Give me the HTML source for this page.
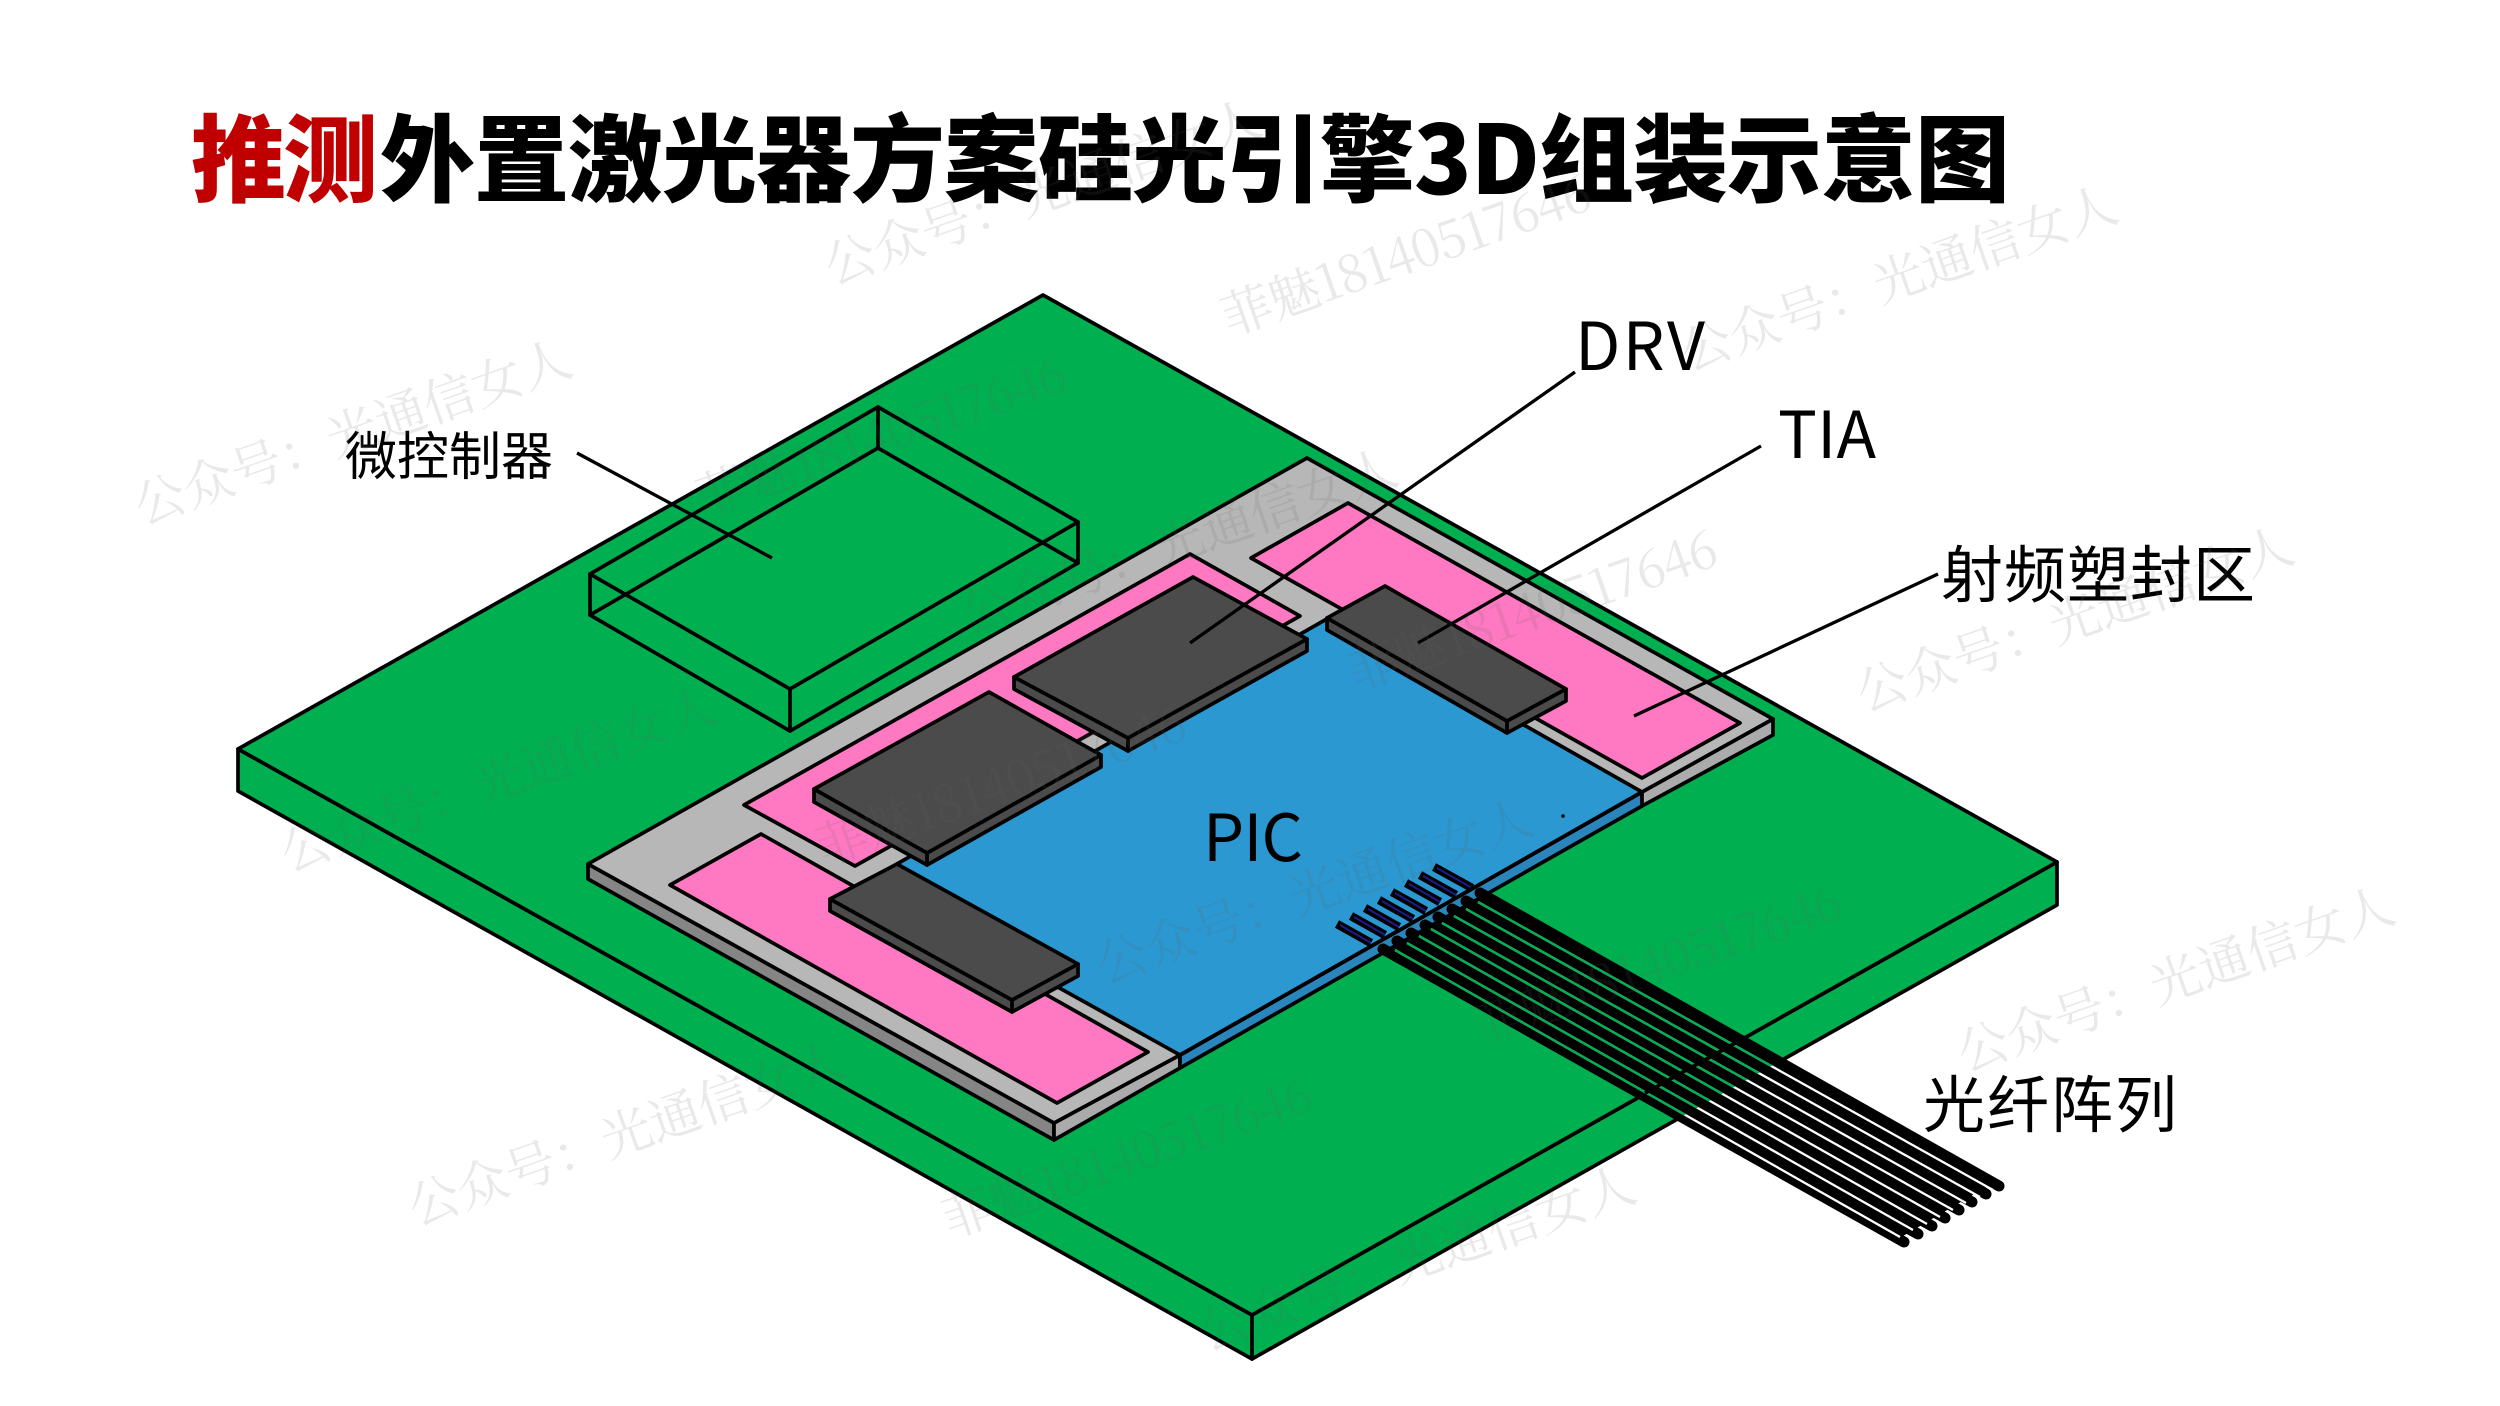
<!DOCTYPE html>
<html><head><meta charset="utf-8"><style>
html,body{margin:0;padding:0;background:#fff;width:2500px;height:1406px;overflow:hidden}
svg{display:block}
.l{font-family:"Noto Sans CJK SC","Liberation Sans",sans-serif;font-size:62px;fill:#000}
.w{font-family:"Noto Serif CJK SC","Liberation Serif",serif;font-size:51px;fill:rgba(100,100,100,.14)}
.k{stroke:#000;stroke-width:3.7;stroke-linejoin:round;stroke-linecap:round}
</style></head><body>
<svg width="2500" height="1406" viewBox="0 0 2500 1406" xmlns="http://www.w3.org/2000/svg">
<defs><clipPath id="bd"><polygon points="1043,295 2057,862 2057,905 1252,1359 238,791 238,749"/></clipPath></defs>
<rect width="2500" height="1406" fill="#fff"/>
<!-- title -->
<text x="191" y="194" font-family="'Noto Sans CJK SC',sans-serif" font-weight="900" font-size="95" fill="#C00000" textLength="187">推测</text>
<text x="380" y="194" font-family="'Noto Sans CJK SC',sans-serif" font-weight="900" font-size="95" fill="#000" textLength="1630">外置激光器方案硅光引擎3D组装示意图</text>
<!-- board -->
<polygon class="k" fill="#00B050" points="238,749 1252,1315 1252,1359 238,791"/>
<polygon class="k" fill="#00B050" points="1252,1315 2057,862 2057,905 1252,1359"/>
<polygon class="k" fill="#00B050" points="1043,295 2057,862 1252,1315 238,749"/>
<!-- package sides -->
<polygon class="k" fill="#858585" points="588,864 1054,1123 1054,1140 588,879"/>
<polygon class="k" fill="#ABABAB" points="1054,1123 1180,1055 1180,1068 1054,1140"/>
<polygon class="k" fill="#2A85BC" points="1180,1055 1642,792 1642,806 1180,1068"/>
<polygon class="k" fill="#ABABAB" points="1642,792 1773,719 1773,735 1642,806"/>
<polygon class="k" fill="#B7B7B7" points="588,864 1307,458 1773,719 1642,792 1180,1055 1054,1123"/>
<!-- pink -->
<polygon class="k" fill="#FF79C2" points="744,805 1190,554 1300,616 855,866"/>
<polygon class="k" fill="#FF79C2" points="670,885 761,834 1148,1052 1057,1103"/>
<polygon class="k" fill="#FF79C2" points="1251,558 1348,503 1740,723 1642,778"/>
<!-- PIC -->
<polygon class="k" fill="#2B98D1" points="1332,616 1642,792 1180,1055 867,881"/>
<!-- stubs -->
<g fill="none" stroke="#000" stroke-width="8.5">
<path d="M1337,924L1371,943M1351,916L1385,935M1365,908L1399,927M1379,900L1413,919M1392,892L1426,911M1406,883L1440,902M1420,875L1456,895M1434,867L1472,888"/>
</g>
<g fill="none" stroke="#1F1A8A" stroke-width="2">
<path d="M1340,925L1371,943M1354,917L1385,935M1368,909L1399,927M1382,901L1413,919M1395,893L1426,911M1409,884L1440,902M1423,876L1456,895M1437,868L1472,888"/>
</g>
<line class="k" x1="1180" y1="1055" x2="1642" y2="792"/>
<!-- chips -->
<g class="k" fill="#4B4B4B">
<polygon points="1014,677 1128,738 1307,639 1307,651 1128,751 1014,689"/><polyline fill="none" points="1014,677 1128,738 1128,751"/>
<polygon points="1193,577 1307,639 1128,738 1014,677"/>
<polygon points="814,789 927,853 1101,755 1101,767 927,865 814,802"/>
<polygon points="989,692 1101,755 927,853 814,789"/>
<polygon points="830,899 1012,1000 1078,964 1078,976 1012,1012 830,911"/>
<polygon points="897,864 1078,964 1012,1000 830,899"/>
<polygon points="1327,618 1507,721 1566,689 1566,701 1507,733 1327,630"/>
<polygon points="1385,586 1566,689 1507,721 1327,618"/>
<line x1="1128" y1="738" x2="1128" y2="751"/><line x1="927" y1="853" x2="927" y2="865"/><line x1="1012" y1="1000" x2="1012" y2="1012"/><line x1="1507" y1="721" x2="1507" y2="733"/>
</g>
<!-- MCU box -->
<g class="k" fill="none">
<polygon points="590,574 878,407 1078,522 790,689"/>
<polygon points="590,615 878,448 1078,563 790,731"/>
<path d="M590,574V615M878,407V448M1078,522V563M790,689V731"/>
</g>
<!-- fibers -->
<polygon fill="#000" points="1389,952 1486,896 1993,1183 1898,1239"/>
<g fill="none" stroke="#000" stroke-width="11" stroke-linecap="round">
<path d="M1383,949L1904,1242M1397,941L1918,1234M1411,933L1932,1226M1425,925L1945,1218M1438,917L1959,1210M1452,909L1972,1202M1466,901L1986,1194M1480,893L1999,1186"/>
</g>
<g fill="none" stroke="#fff" stroke-width="2.3">
<path d="M1395,950L1900,1237M1407,943L1913,1230M1419,936L1927,1224M1431,929L1940,1217M1442,923L1953,1210M1454,916L1966,1203M1466,909L1980,1197M1478,902L1993,1190"/>
</g>
<g clip-path="url(#bd)" fill="none" stroke="#00B050" stroke-width="2.3">
<path d="M1395,950L1900,1237M1407,943L1913,1230M1419,936L1927,1224M1431,929L1940,1217M1442,923L1953,1210M1454,916L1966,1203M1466,909L1980,1197M1478,902L1993,1190"/>
</g>
<line x1="1645" y1="1093" x2="1739" y2="1041" stroke="#000" stroke-width="3.7"/>
<!-- leaders -->
<g stroke="#000" stroke-width="3.3" fill="none">
<line x1="577" y1="453" x2="772" y2="558"/>
<line x1="1575" y1="372" x2="1190" y2="643"/>
<line x1="1761" y1="446" x2="1418" y2="643"/>
<line x1="1938" y1="574" x2="1634" y2="716"/>
</g>
<circle cx="1563" cy="816" r="1.8" fill="#000"/>
<circle cx="913" cy="1408" r="1.5" fill="#000"/>
<!-- labels -->
<text class="l" x="345" y="475" style="font-size:52px" textLength="208">微控制器</text>
<text class="l" x="1575" y="370" style="font-size:66px" textLength="130">DRV</text>
<text class="l" x="1778" y="458" style="font-size:65px" textLength="98">TIA</text>
<text class="l" x="1941" y="597" textLength="314">射频塑封区</text>
<text class="l" x="1203" y="861" style="font-size:65px" textLength="100">PIC</text>
<text class="l" x="1923" y="1127" textLength="254">光纤阵列</text>
<!-- watermarks -->
<g class="w">
<text transform="translate(832,285) rotate(-19.3)">公众号：光通信女人</text>
<text transform="translate(1688,371) rotate(-19.3)">公众号：光通信女人</text>
<text transform="translate(142,525) rotate(-19.3)">公众号：光通信女人</text>
<text transform="translate(968,634) rotate(-19.3)">公众号：光通信女人</text>
<text transform="translate(288,872) rotate(-19.3)">公众号：光通信女人</text>
<text transform="translate(1864,712) rotate(-19.3)">公众号：光通信女人</text>
<text transform="translate(1104,984) rotate(-19.3)">公众号：光通信女人</text>
<text transform="translate(1965,1072) rotate(-19.3)">公众号：光通信女人</text>
<text transform="translate(416,1226) rotate(-19.3)">公众号：光通信女人</text>
<text transform="translate(1206,1351) rotate(-19.3)">公众号：光通信女人</text>
<text transform="translate(1229,336) rotate(-19.3)" textLength="388">菲魅18140517646</text>
<text transform="translate(704,517) rotate(-19.3)" textLength="388">菲魅18140517646</text>
<text transform="translate(1355,692) rotate(-19.3)" textLength="388">菲魅18140517646</text>
<text transform="translate(824,866) rotate(-19.3)" textLength="388">菲魅18140517646</text>
<text transform="translate(1480,1045) rotate(-19.3)" textLength="388">菲魅18140517646</text>
<text transform="translate(950,1238) rotate(-19.3)" textLength="388">菲魅18140517646</text>
</g>
</svg>
</body></html>
